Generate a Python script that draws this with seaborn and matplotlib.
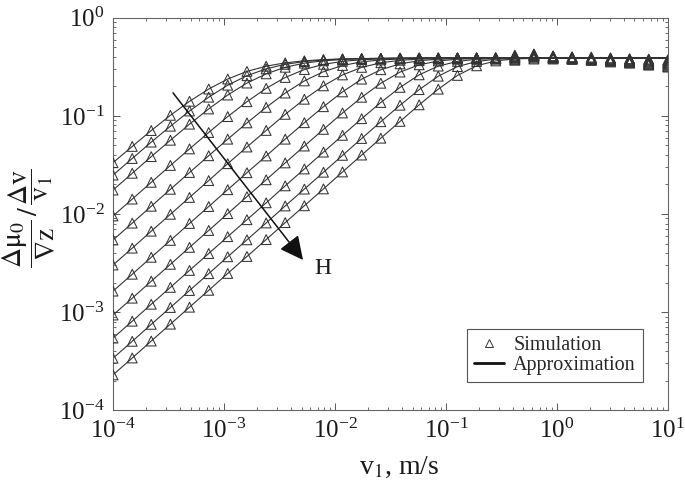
import numpy as np
import pandas as pd
import matplotlib
matplotlib.use("Agg")
import matplotlib.pyplot as plt
import matplotlib.font_manager as fm
from matplotlib.lines import Line2D
from matplotlib.ticker import LogLocator, NullFormatter
import seaborn as sns

# ---------------- data ----------------
v1 = [1.00e-4, 1.49e-4, 2.21e-4, 3.29e-4, 4.89e-4, 7.28e-4, 1.08e-3, 1.61e-3,
      2.40e-3, 3.56e-3, 5.30e-3, 7.88e-3, 1.17e-2, 1.74e-2, 2.59e-2, 3.86e-2,
      5.74e-2, 8.53e-2, 0.127, 0.189, 0.281, 0.418, 0.621, 0.924, 1.37, 2.04,
      3.04, 4.52, 6.72, 10.0]

# log10 of the approximation curves (one list per H value, top to bottom)
approx_h1 = [-1.477, -1.311, -1.149, -0.994, -0.851, -0.726, -0.624, -0.546, -0.493, -0.459,
             -0.438, -0.426, -0.419, -0.415, -0.413, -0.411, -0.41, -0.41, -0.41, -0.41,
             -0.41, -0.41, -0.41, -0.41, -0.41, -0.41, -0.41, -0.41, -0.41, -0.41]
approx_h2 = [-1.603, -1.434, -1.267, -1.105, -0.950, -0.809, -0.687, -0.590, -0.520, -0.474,
             -0.446, -0.429, -0.420, -0.416, -0.413, -0.412, -0.41, -0.41, -0.41, -0.41,
             -0.41, -0.41, -0.41, -0.41, -0.41, -0.41, -0.41, -0.41, -0.41, -0.41]
approx_h3 = [-1.756, -1.585, -1.415, -1.248, -1.084, -0.929, -0.787, -0.665, -0.571, -0.504,
             -0.462, -0.438, -0.425, -0.418, -0.414, -0.412, -0.41, -0.41, -0.41, -0.41,
             -0.41, -0.41, -0.41, -0.41, -0.41, -0.41, -0.41, -0.41, -0.41, -0.41]
approx_h4 = [-2.020, -1.848, -1.677, -1.505, -1.336, -1.169, -1.007, -0.855, -0.719, -0.608,
             -0.527, -0.474, -0.444, -0.427, -0.419, -0.414, -0.412, -0.41, -0.41, -0.41,
             -0.41, -0.41, -0.41, -0.41, -0.41, -0.41, -0.41, -0.41, -0.41, -0.41]
approx_h5 = [-2.265, -2.093, -1.921, -1.748, -1.577, -1.406, -1.237, -1.071, -0.913, -0.767,
             -0.643, -0.549, -0.486, -0.449, -0.429, -0.419, -0.414, -0.412, -0.41, -0.41,
             -0.41, -0.41, -0.41, -0.41, -0.41, -0.41, -0.41, -0.41, -0.41, -0.41]
approx_h6 = [-2.520, -2.348, -2.175, -2.003, -1.831, -1.659, -1.487, -1.317, -1.148, -0.984,
             -0.830, -0.693, -0.582, -0.505, -0.458, -0.433, -0.421, -0.415, -0.412, -0.41,
             -0.41, -0.41, -0.41, -0.41, -0.41, -0.41, -0.41, -0.41, -0.41, -0.41]
approx_h7 = [-2.786, -2.614, -2.441, -2.269, -2.096, -1.924, -1.752, -1.579, -1.408, -1.237,
             -1.069, -0.906, -0.755, -0.625, -0.529, -0.469, -0.437, -0.422, -0.415, -0.412,
             -0.41, -0.41, -0.41, -0.41, -0.41, -0.41, -0.41, -0.41, -0.41, -0.41]
approx_h8 = [-3.030, -2.858, -2.685, -2.513, -2.340, -2.168, -1.996, -1.823, -1.651, -1.479,
             -1.307, -1.137, -0.970, -0.810, -0.667, -0.553, -0.479, -0.440, -0.422, -0.415,
             -0.412, -0.41, -0.41, -0.41, -0.41, -0.41, -0.41, -0.41, -0.41, -0.41]
approx_h9 = [-3.265, -3.093, -2.920, -2.748, -2.575, -2.403, -2.231, -2.058, -1.886, -1.713,
             -1.541, -1.369, -1.198, -1.028, -0.863, -0.709, -0.581, -0.492, -0.444, -0.423,
             -0.415, -0.412, -0.41, -0.41, -0.41, -0.41, -0.41, -0.41, -0.41, -0.41]
approx_h10 = [-3.470, -3.298, -3.125, -2.953, -2.780, -2.608, -2.436, -2.263, -2.091, -1.918,
              -1.746, -1.574, -1.402, -1.230, -1.059, -0.891, -0.732, -0.595, -0.497, -0.445,
              -0.422, -0.414, -0.411, -0.41, -0.41, -0.41, -0.41, -0.41, -0.41, -0.41]
approx_h11 = [-3.640, -3.468, -3.295, -3.123, -2.950, -2.778, -2.606, -2.433, -2.261, -2.088,
              -1.916, -1.744, -1.571, -1.399, -1.227, -1.056, -0.887, -0.727, -0.587, -0.489,
              -0.439, -0.419, -0.413, -0.41, -0.41, -0.41, -0.41, -0.41, -0.41, -0.41]

# log10 of the simulation points on the plateau (last 9 velocities), same order
sim_tail_h1 = [-0.39, -0.38, -0.40, -0.41, -0.42, -0.43, -0.44, -0.45, -0.46]
sim_tail_h2 = [-0.40, -0.39, -0.40, -0.41, -0.41, -0.42, -0.43, -0.44, -0.45]
sim_tail_h3 = [-0.38, -0.37, -0.39, -0.40, -0.41, -0.42, -0.42, -0.43, -0.44]
sim_tail_h4 = [-0.39, -0.38, -0.39, -0.40, -0.40, -0.41, -0.42, -0.43, -0.43]
sim_tail_h5 = [-0.40, -0.38, -0.40, -0.41, -0.42, -0.43, -0.44, -0.46, -0.47]
sim_tail_h6 = [-0.41, -0.39, -0.41, -0.42, -0.43, -0.44, -0.45, -0.47, -0.48]
sim_tail_h7 = [-0.40, -0.37, -0.39, -0.40, -0.41, -0.41, -0.42, -0.42, -0.43]
sim_tail_h8 = [-0.41, -0.39, -0.40, -0.41, -0.42, -0.43, -0.44, -0.45, -0.46]
sim_tail_h9 = [-0.42, -0.40, -0.41, -0.42, -0.43, -0.44, -0.45, -0.47, -0.49]
sim_tail_h10 = [-0.43, -0.41, -0.42, -0.42, -0.43, -0.44, -0.46, -0.48, -0.50]
sim_tail_h11 = [-0.43, -0.42, -0.41, -0.42, -0.43, -0.45, -0.46, -0.48, -0.50]

approx_all = [approx_h1, approx_h2, approx_h3, approx_h4, approx_h5, approx_h6,
              approx_h7, approx_h8, approx_h9, approx_h10, approx_h11]
sim_tails = [sim_tail_h1, sim_tail_h2, sim_tail_h3, sim_tail_h4, sim_tail_h5, sim_tail_h6,
             sim_tail_h7, sim_tail_h8, sim_tail_h9, sim_tail_h10, sim_tail_h11]

# ---------------- build long-form table ----------------
rows = []
for k, (ap, tail) in enumerate(zip(approx_all, sim_tails)):
    sim = ap[:len(ap) - len(tail)] + tail
    for v, a, s in zip(v1, ap, sim):
        rows.append({"curve": k, "v": v, "approx": 10 ** a, "sim": 10 ** s})
df = pd.DataFrame(rows)

# ---------------- fonts / style ----------------
for f in fm.findSystemFonts():
    if "LiberationSerif" in f.replace(" ", ""):
        try:
            fm.fontManager.addfont(f)
        except Exception:
            pass

sns.set_theme(style="ticks")
plt.rcParams["font.family"] = "serif"
plt.rcParams["font.serif"] = ["Liberation Serif", "DejaVu Serif"]
plt.rcParams["mathtext.fontset"] = "stix"

fig, ax = plt.subplots(figsize=(6.85, 4.82), dpi=100)
fig.subplots_adjust(left=0.165, right=0.975, bottom=0.149, top=0.963)

ink = "#333333"
sns.lineplot(data=df, x="v", y="approx", units="curve", estimator=None,
             color=ink, lw=0.8, ax=ax, legend=False)
sns.scatterplot(data=df, x="v", y="sim", marker="^", s=50, facecolors="none",
                edgecolor=ink, linewidth=0.75, ax=ax, legend=False, zorder=3)

ax.set_xscale("log")
ax.set_yscale("log")
ax.set_xlim(1e-4, 10)
ax.set_ylim(1e-4, 1)

for axis in (ax.xaxis, ax.yaxis):
    axis.set_major_locator(LogLocator(base=10, numticks=10))
    axis.set_minor_locator(LogLocator(base=10, subs=np.arange(2, 10), numticks=12))
    axis.set_minor_formatter(NullFormatter())

ax.tick_params(which="both", direction="in", top=True, right=True, colors="#555555",
               labelcolor="#1a1a1a", labelsize=18)
ax.tick_params(which="major", length=5, width=0.7)
ax.tick_params(which="minor", length=2.5, width=0.6)
ax.tick_params(axis="x", pad=6)
ax.tick_params(axis="y", pad=6)
for sp in ax.spines.values():
    sp.set_color("#666666")
    sp.set_linewidth(0.8)

ax.set_xlabel(r"v$_\mathrm{1}$, m/s", fontsize=20, color="#1a1a1a")
ax.xaxis.set_label_coords(0.515, -0.115)
ax.set_ylabel(r"$\dfrac{\Delta\mathrm{\mu}_0}{\nabla\mathrm{z}}\,/\,\dfrac{\Delta\mathrm{v}}{\mathrm{v}_1}$",
              fontsize=20, color="#1a1a1a")
ax.yaxis.set_label_coords(-0.1, 0.49)

# arrow indicating increasing H
ax.annotate("", xy=(5.15e-3, 3.4e-3), xytext=(3.47e-4, 0.172),
            arrowprops=dict(arrowstyle="-|>,head_length=0.8,head_width=0.4",
                            mutation_scale=18, lw=1.1, color="#111111",
                            shrinkA=0, shrinkB=0))
ax.text(7.8e-3, 2.8e-3, "H", fontsize=17, ha="center", va="center", color="#1a1a1a")

handles = [Line2D([], [], marker="^", ls="none", markersize=6, markerfacecolor="none",
                  markeredgecolor=ink, markeredgewidth=0.7),
           Line2D([], [], color="#111111", lw=2)]
leg = ax.legend(handles, ["Simulation", "Approximation"], loc="lower right",
                bbox_to_anchor=(0.955, 0.071), borderaxespad=0, fancybox=False,
                edgecolor="#555555", framealpha=1, fontsize=14.5, handlelength=1.5,
                borderpad=0.35, labelspacing=0.05, handletextpad=0.45)
leg.get_frame().set_linewidth(0.8)

fig.savefig("out.png", dpi=100)
